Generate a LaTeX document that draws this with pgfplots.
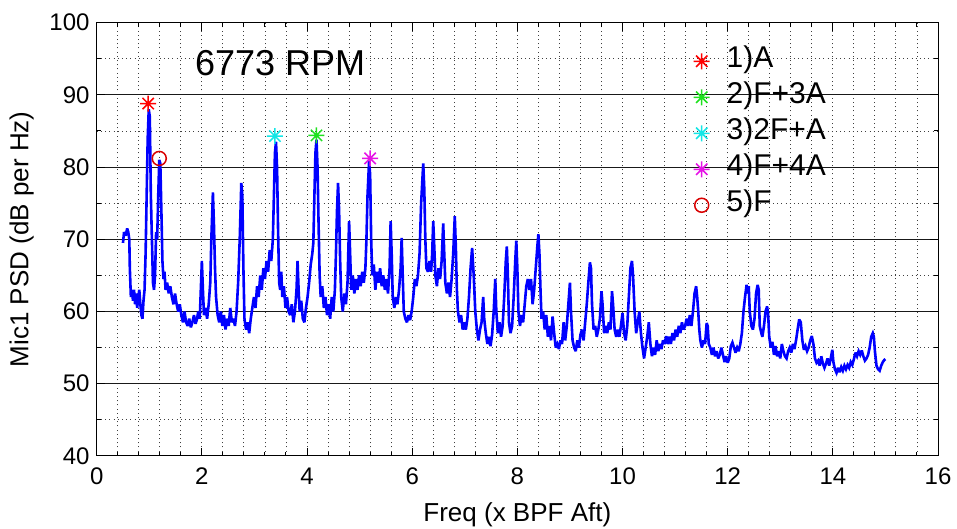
\documentclass[border=0pt]{standalone}
\usepackage{pgfplots}
\pgfplotsset{compat=1.18}
\usepackage{fontspec}
\setmainfont{Liberation Sans}
\definecolor{mgreen}{RGB}{30,225,30}
\definecolor{mcyan}{RGB}{20,230,230}
\definecolor{mmag}{RGB}{230,20,230}
\pgfdeclareplotmark{mstar}{%
  \pgfpathmoveto{\pgfqpoint{-\pgfplotmarksize}{0pt}}\pgfpathlineto{\pgfqpoint{\pgfplotmarksize}{0pt}}%
  \pgfpathmoveto{\pgfqpoint{0pt}{-\pgfplotmarksize}}\pgfpathlineto{\pgfqpoint{0pt}{\pgfplotmarksize}}%
  \pgfpathmoveto{\pgfqpoint{-.707\pgfplotmarksize}{-.707\pgfplotmarksize}}\pgfpathlineto{\pgfqpoint{.707\pgfplotmarksize}{.707\pgfplotmarksize}}%
  \pgfpathmoveto{\pgfqpoint{-.707\pgfplotmarksize}{.707\pgfplotmarksize}}\pgfpathlineto{\pgfqpoint{.707\pgfplotmarksize}{-.707\pgfplotmarksize}}%
  \pgfusepathqstroke}
\begin{document}
\begin{tikzpicture}
\begin{axis}[
  scale only axis, width=841.3pt, height=433.2pt,
  xmin=0, xmax=16, ymin=40, ymax=100,
  xtick={0,2,...,16}, ytick={40,50,...,100},
  minor x tick num=4, minor y tick num=1,
  xmajorgrids, xminorgrids, ymajorgrids, yminorgrids,
  major x grid style={black!75, line width=0.9pt, dash pattern=on 1pt off 3.2pt},
  minor x grid style={black!75, line width=0.9pt, dash pattern=on 1pt off 3.2pt},
  major y grid style={black!90, line width=1pt, solid},
  minor y grid style={black!75, line width=0.9pt, dash pattern=on 1pt off 3.2pt},
  axis line style={black, line width=1pt},
  major tick length=8pt, minor tick length=4pt,
  every tick/.style={black, line width=1pt},
  tick align=inside,
  /pgf/number format/assume math mode=true,
  tick label style={font=\fontsize{24}{28}\selectfont},
  xticklabel style={anchor=north, inner sep=0pt},
  xticklabel shift=12pt,
  yticklabel style={anchor=east, inner sep=0pt},
  yticklabel shift=7pt,
  xlabel={Freq (x BPF Aft)},
  ylabel={Mic1 PSD (dB per Hz)},
  label style={font=\fontsize{26}{30}\selectfont},
  xlabel style={at={(axis description cs:0.5,-0.136)}, anchor=center, inner sep=0pt},
  ylabel style={at={(axis description cs:-0.0892,0.5)}, anchor=center, inner sep=0pt},
  legend cell align=left,
  legend style={draw=none, fill=none, at={(axis description cs:0.7094,0.953)}, anchor=north west,
    font=\fontsize{30}{30}\selectfont, inner sep=0pt, row sep=0pt,
    nodes={inner sep=0pt, text height=24pt, text depth=12pt}},
  /tikz/every odd column/.append style={column sep=17pt},
  clip=true,
]
\addplot[blue, line width=2.6pt, line join=miter, miter limit=3, forget plot] coordinates {
(0.50,69.5)(0.52,71)(0.55,70.5)(0.58,71.5)(0.60,71)(0.62,70)(0.63,66)(0.65,62)(0.67,63)(0.69,61.5)(0.71,63)(0.73,61)(0.75,62.5)(0.77,60.5)(0.79,62)(0.81,63)(0.83,61)(0.85,59.5)(0.87,59)(0.89,61.5)(0.91,63)(0.93,68)(0.95,76)(0.97,84)(0.99,88)(1.01,87)(1.03,76)(1.05,70)(1.07,64)(1.09,63)(1.11,65)(1.13,71)(1.15,70)(1.17,76)(1.19,81)(1.21,80.5)(1.23,74)(1.25,67)(1.27,64.5)(1.29,65.5)(1.31,63)(1.34,64)(1.37,62.5)(1.40,63.5)(1.43,62)(1.46,61)(1.49,62.5)(1.52,61)(1.55,60)(1.58,61)(1.61,59.5)(1.64,58.5)(1.67,60)(1.70,58.5)(1.73,58)(1.76,59)(1.79,57.8)(1.82,58.5)(1.85,59.5)(1.88,58.3)(1.91,59)(1.93,60)(1.96,59)(1.98,63)(2.00,67)(2.02,63)(2.04,59.5)(2.07,60.5)(2.10,59)(2.13,61)(2.16,64)(2.18,70)(2.21,76.5)(2.23,72)(2.25,66)(2.27,62)(2.30,59.5)(2.33,58.5)(2.36,60)(2.39,58)(2.42,59.5)(2.45,57.5)(2.48,59)(2.51,58)(2.54,60.5)(2.57,58.5)(2.60,59)(2.63,58)(2.66,60)(2.69,64)(2.72,70)(2.75,77.8)(2.77,76)(2.79,66)(2.81,59)(2.84,57.5)(2.87,58.5)(2.90,57)(2.93,59)(2.96,60.5)(2.99,62)(3.02,60.5)(3.05,63.5)(3.08,62)(3.11,65)(3.14,63)(3.17,66)(3.20,64.5)(3.23,67)(3.26,65.5)(3.29,68.5)(3.32,67)(3.35,70)(3.37,76)(3.39,82)(3.41,83.5)(3.43,80)(3.45,71)(3.47,64)(3.49,63)(3.51,65.5)(3.53,62)(3.56,63.5)(3.59,60.5)(3.62,62)(3.65,60)(3.68,59.5)(3.71,61)(3.74,58.5)(3.77,60)(3.80,63)(3.82,67)(3.84,63)(3.86,60)(3.89,61.5)(3.92,59)(3.95,58.5)(3.98,60.5)(4.01,62)(4.04,64)(4.07,66.5)(4.10,68)(4.12,69.5)(4.14,76)(4.16,82)(4.18,83.8)(4.20,80)(4.22,72)(4.24,65)(4.26,62)(4.29,63.5)(4.32,60.5)(4.35,62)(4.38,59.5)(4.41,61)(4.44,59)(4.47,62)(4.50,60)(4.53,63)(4.55,68)(4.57,74)(4.59,77.8)(4.61,74)(4.63,67)(4.65,62)(4.68,60)(4.71,62.5)(4.74,61)(4.77,64)(4.80,72.5)(4.82,68)(4.84,63)(4.87,65)(4.90,62.5)(4.93,64.5)(4.96,63)(4.99,65)(5.02,63.5)(5.05,65.5)(5.08,64)(5.11,66)(5.13,70)(5.15,76)(5.18,80.8)(5.20,79)(5.22,70)(5.24,65)(5.27,66.5)(5.30,63)(5.33,65.5)(5.36,64)(5.39,66)(5.42,63.5)(5.45,65)(5.48,63)(5.51,64.5)(5.54,62.5)(5.57,66)(5.59,72.5)(5.61,68)(5.63,62)(5.66,60.5)(5.69,62)(5.72,61)(5.75,63)(5.78,66)(5.80,70.2)(5.82,65)(5.84,60)(5.87,59)(5.90,58.5)(5.93,59.5)(5.96,58.8)(5.99,60)(6.02,62)(6.05,64.5)(6.08,63.5)(6.11,65)(6.14,68)(6.17,75)(6.21,80.5)(6.23,77)(6.25,70)(6.27,66)(6.30,65.5)(6.33,67)(6.36,65.5)(6.38,68)(6.40,72.5)(6.42,69)(6.44,65)(6.47,63.5)(6.50,66)(6.53,64.5)(6.56,67)(6.59,72.2)(6.61,68)(6.63,64)(6.66,62.5)(6.69,64)(6.72,62)(6.75,64.5)(6.78,68)(6.81,73.2)(6.83,69)(6.85,63)(6.87,60)(6.90,58.5)(6.93,59.5)(6.96,57.5)(6.99,58.5)(7.02,57.5)(7.05,59)(7.08,62)(7.11,66)(7.14,68.8)(7.17,65)(7.20,60)(7.23,57.5)(7.26,56)(7.29,57.5)(7.32,58.5)(7.35,62)(7.37,59)(7.40,57)(7.43,55.5)(7.46,56.5)(7.49,55.2)(7.52,56.8)(7.55,60)(7.58,64.5)(7.60,60)(7.63,57)(7.66,58.5)(7.69,56.5)(7.72,58)(7.75,62)(7.78,67)(7.80,69)(7.82,65)(7.84,58.5)(7.87,57)(7.90,58)(7.93,62)(7.96,67)(7.98,69.8)(8.00,66)(8.02,60)(8.05,58)(8.08,59.5)(8.11,58.5)(8.14,61)(8.17,63.5)(8.20,64.5)(8.23,63)(8.26,64.5)(8.29,61)(8.32,63)(8.35,66)(8.38,69)(8.40,70.7)(8.42,68)(8.44,63)(8.46,59)(8.49,60)(8.52,57.5)(8.55,59.5)(8.58,56.5)(8.61,58)(8.64,56)(8.67,59.3)(8.70,57)(8.73,55)(8.76,55.5)(8.79,54.8)(8.82,56)(8.85,55.5)(8.88,58.5)(8.91,56)(8.94,58)(8.97,61)(9.00,64)(9.02,60)(9.05,56)(9.08,55)(9.11,54.5)(9.14,56)(9.17,55)(9.20,56.8)(9.23,57.5)(9.26,56)(9.29,58.5)(9.32,61)(9.35,64)(9.38,66.8)(9.40,66)(9.42,61)(9.45,57.5)(9.48,58)(9.51,56.5)(9.54,57.5)(9.57,59)(9.60,62.8)(9.62,61)(9.65,57)(9.68,58)(9.71,57)(9.74,58.5)(9.77,57.5)(9.80,62.8)(9.82,61)(9.85,57.5)(9.88,56.5)(9.91,57.5)(9.94,56.5)(9.97,58)(10.00,59.8)(10.03,57)(10.06,56)(10.09,58)(10.12,62)(10.15,66)(10.18,67)(10.20,65)(10.23,60)(10.26,57)(10.29,58.5)(10.32,60)(10.35,57)(10.38,55)(10.41,53.5)(10.44,55)(10.47,56.5)(10.50,58.5)(10.53,55.5)(10.56,53.8)(10.59,55)(10.62,54)(10.65,56)(10.68,54.5)(10.71,55.5)(10.74,54.8)(10.77,56)(10.80,55.5)(10.83,56.6)(10.86,55.5)(10.89,56.5)(10.92,55.5)(10.95,57)(10.98,56)(11.01,57.5)(11.04,56.5)(11.07,58)(11.10,57)(11.13,58.5)(11.16,57.5)(11.19,58)(11.22,59)(11.25,58)(11.28,59.5)(11.31,58)(11.34,60)(11.37,62.5)(11.40,63.5)(11.42,62)(11.44,60)(11.46,57.5)(11.48,56)(11.51,55)(11.54,56)(11.57,55.5)(11.60,58.4)(11.62,58)(11.64,55.5)(11.67,55)(11.70,54)(11.73,55)(11.76,53.8)(11.79,54.5)(11.82,53.5)(11.85,54)(11.88,55)(11.91,54)(11.94,53)(11.97,53.8)(12.00,52.9)(12.03,53.5)(12.06,55.2)(12.09,55.7)(12.12,55)(12.15,54.3)(12.18,55)(12.21,54.5)(12.24,55.5)(12.27,57)(12.30,60)(12.33,62)(12.36,63.7)(12.38,62.5)(12.40,63.5)(12.42,60)(12.45,58)(12.48,57.5)(12.51,59)(12.54,62.5)(12.57,63.7)(12.59,63)(12.61,58)(12.64,57)(12.66,56.5)(12.69,58)(12.72,60)(12.75,60.7)(12.77,59.5)(12.79,56.5)(12.82,55)(12.85,55.8)(12.88,54)(12.91,55.2)(12.94,53.8)(12.97,54.5)(13.00,53.5)(13.03,55.5)(13.06,54.5)(13.09,53.8)(13.12,53.5)(13.15,54.5)(13.18,55)(13.21,54.3)(13.24,55.5)(13.27,54.8)(13.30,56)(13.33,57.5)(13.36,58.9)(13.39,58.5)(13.42,56)(13.45,54.7)(13.48,55.2)(13.51,54.5)(13.54,55)(13.57,56)(13.60,56.6)(13.63,55.5)(13.66,53.5)(13.69,52.9)(13.72,53.2)(13.75,52.5)(13.78,53.8)(13.81,52.8)(13.84,52.2)(13.87,52.8)(13.90,53.5)(13.93,52.5)(13.96,53.5)(13.99,54.7)(14.01,53)(14.04,52)(14.07,51.5)(14.10,52.2)(14.13,51.6)(14.16,52.3)(14.19,51.8)(14.22,52.5)(14.25,52)(14.28,52.6)(14.31,52.2)(14.34,53)(14.37,52.6)(14.40,53.4)(14.43,54.3)(14.46,53.8)(14.49,54.5)(14.52,54)(14.55,54.6)(14.58,53.8)(14.61,53.2)(14.64,53.5)(14.67,54)(14.70,55)(14.73,56.5)(14.76,57)(14.78,56.5)(14.80,54.5)(14.83,52.5)(14.86,52)(14.89,51.8)(14.92,52.5)(14.95,53)(14.98,53.3)(15.00,53.4)
};
\addplot[only marks, mark=mstar, mark size=8pt, red, line width=1.5pt] coordinates {(0.98,88.8)};
\addlegendentry{1)A}
\addplot[only marks, mark=mstar, mark size=8pt, mgreen, line width=1.5pt] coordinates {(4.18,84.4)};
\addlegendentry{2)F+3A}
\addplot[only marks, mark=mstar, mark size=8pt, mcyan, line width=1.5pt] coordinates {(3.39,84.3)};
\addlegendentry{3)2F+A}
\addplot[only marks, mark=mstar, mark size=8pt, mmag, line width=1.5pt] coordinates {(5.20,81.2)};
\addlegendentry{4)F+4A}
\addplot[only marks, mark=o, mark size=7pt, red!85!black, line width=1.5pt] coordinates {(1.19,81.2)};
\addlegendentry{5)F}
\node[font=\fontsize{36}{40}\selectfont, anchor=center, inner sep=0pt] at (axis cs:3.49,94.4) {6773 RPM};
\coordinate (SW) at (axis description cs:0,0);
\coordinate (NE) at (axis description cs:1,1);
\end{axis}
\pgfresetboundingbox
\path[use as bounding box] ([xshift=-96.7pt,yshift=-73pt]SW) rectangle ([xshift=19pt,yshift=22.7pt]NE);
\end{tikzpicture}
\end{document}
